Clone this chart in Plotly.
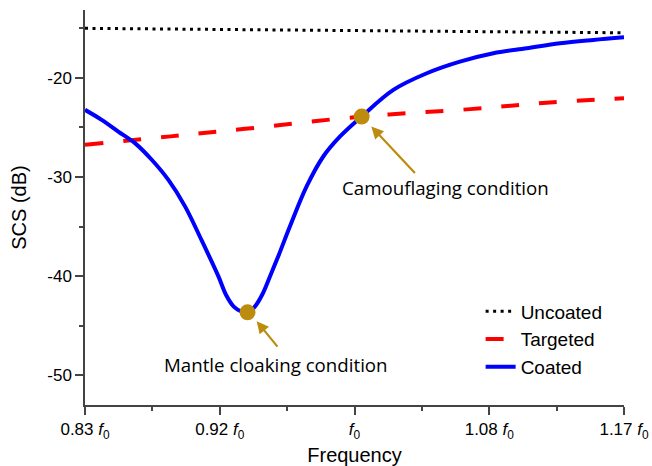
import plotly.graph_objects as go

# Normalised frequency (f / f0) and scattering cross-section in dB
freq_uncoated = [0.83, 1.0045, 1.17]
scs_uncoated = [-15.0, -15.25, -15.45]

freq_targeted = [0.83, 0.884, 0.931, 1.0045, 1.073, 1.121, 1.17]
scs_targeted = [-26.75, -25.9, -25.14, -23.9, -23.15, -22.5, -22.05]

freq_coated = [0.830, 0.8405, 0.851, 0.8615, 0.8721, 0.8825, 0.8931, 0.9036,
               0.9141, 0.9190, 0.9240, 0.9290, 0.9325, 0.9370, 0.9420, 0.9470,
               0.9519, 0.9593, 0.9698, 0.9803, 0.9909, 1.0045, 1.0245, 1.0456,
               1.0665, 1.0876, 1.1086, 1.1296, 1.1506, 1.17]
scs_coated = [-23.22, -24.23, -25.41, -26.58, -28.26, -30.27, -32.96, -36.4,
              -40.0, -41.9, -43.1, -43.6, -43.68, -43.1, -41.8, -39.9,
              -38.0, -34.97, -30.95, -27.93, -25.91, -23.90, -21.21, -19.53,
              -18.36, -17.51, -17.01, -16.51, -16.17, -15.90]

# Highlighted operating points
point_freq = [0.9325, 1.0045]
point_scs = [-43.65, -23.9]
point_labels = ["Mantle cloaking condition", "Camouflaging condition"]

x_tick_vals = [0.83, 0.915, 1.0, 1.085, 1.17]
x_tick_text = ["0.83 <i>f</i><sub>0</sub>", "0.92 <i>f</i><sub>0</sub>",
               "<i>f</i><sub>0</sub>", "1.08 <i>f</i><sub>0</sub>",
               "1.17 <i>f</i><sub>0</sub>"]
y_tick_vals = [-20, -30, -40, -50]
y_tick_text = ["-20", "-30", "-40", "-50"]

GOLD = "#BC8C0E"
AXIS = "#444444"
FONT = "Liberation Sans"
NOTE_FONT = "Open Sans"

fig = go.Figure()
fig.add_trace(go.Scatter(x=freq_uncoated, y=scs_uncoated, mode="lines",
                         name="Uncoated",
                         line=dict(color="black", width=3, dash="3px,4.5px")))
fig.add_trace(go.Scatter(x=freq_targeted, y=scs_targeted, mode="lines",
                         name="Targeted",
                         line=dict(color="#FF0000", width=4, dash="18px,20px",
                                   shape="spline")))
fig.add_trace(go.Scatter(x=freq_coated, y=scs_coated, mode="lines",
                         name="Coated",
                         line=dict(color="#0000FF", width=4, shape="spline",
                                   smoothing=1.0)))
fig.add_trace(go.Scatter(x=point_freq, y=point_scs, mode="markers",
                         showlegend=False,
                         marker=dict(color=GOLD, size=16)))

# Arrows pointing at the highlighted points, with their captions
arrow_specs = [
    dict(x=0.9383, y=-44.54, ax=22, ay=27, tx=0.9505, ty=-48.9),
    dict(x=1.0106, y=-24.9, ax=45, ay=48, tx=1.0571, ty=-31.08),
]
for label, a in zip(point_labels, arrow_specs):
    fig.add_annotation(x=a["x"], y=a["y"], ax=a["ax"], ay=a["ay"],
                       axref="pixel", ayref="pixel", text="", showarrow=True,
                       arrowhead=2, arrowsize=1.1, arrowwidth=2.2,
                       arrowcolor=GOLD)
    fig.add_annotation(x=a["tx"], y=a["ty"], text=label, showarrow=False,
                       font=dict(family=NOTE_FONT, size=18.7, color="black"))

fig.update_xaxes(range=[0.83, 1.17], tickvals=x_tick_vals, ticktext=x_tick_text,
                 automargin=False,
                 showgrid=False, zeroline=False, showline=True,
                 linecolor=AXIS, linewidth=1.5, ticks="outside",
                 ticklen=8, tickwidth=1.5, tickcolor=AXIS,
                 minor=dict(ticks="outside", ticklen=4, tickwidth=1.5,
                            tickcolor=AXIS,
                            tickvals=[0.8725, 0.9575, 1.0425, 1.1275]),
                 tickfont=dict(family=FONT, size=17, color="black"),
                 title=dict(text="Frequency",
                            font=dict(family=FONT, size=20, color="black")))
fig.update_yaxes(range=[-53.0, -13.15], tickvals=y_tick_vals,
                 ticktext=y_tick_text, automargin=False,
                 showgrid=False, zeroline=False, showline=True,
                 linecolor=AXIS, linewidth=1.5, ticks="outside",
                 ticklen=8, tickwidth=1.5, tickcolor=AXIS,
                 minor=dict(ticks="outside", ticklen=4, tickwidth=1.5,
                            tickcolor=AXIS, tickvals=[-15, -25, -35, -45]),
                 tickfont=dict(family=FONT, size=17, color="black"),
                 title=dict(text="SCS (dB)",
                            font=dict(family=FONT, size=20, color="black")))

fig.update_layout(
    width=652, height=466,
    margin=dict(l=85, r=28, t=10, b=61),
    plot_bgcolor="white", paper_bgcolor="white",
    font=dict(family=FONT, color="black"),
    legend=dict(x=0.734, y=0.285, xanchor="left", yanchor="top",
                bgcolor="rgba(0,0,0,0)", font=dict(family=FONT, size=19),
                tracegroupgap=0),
)

fig.write_html("out.html")
